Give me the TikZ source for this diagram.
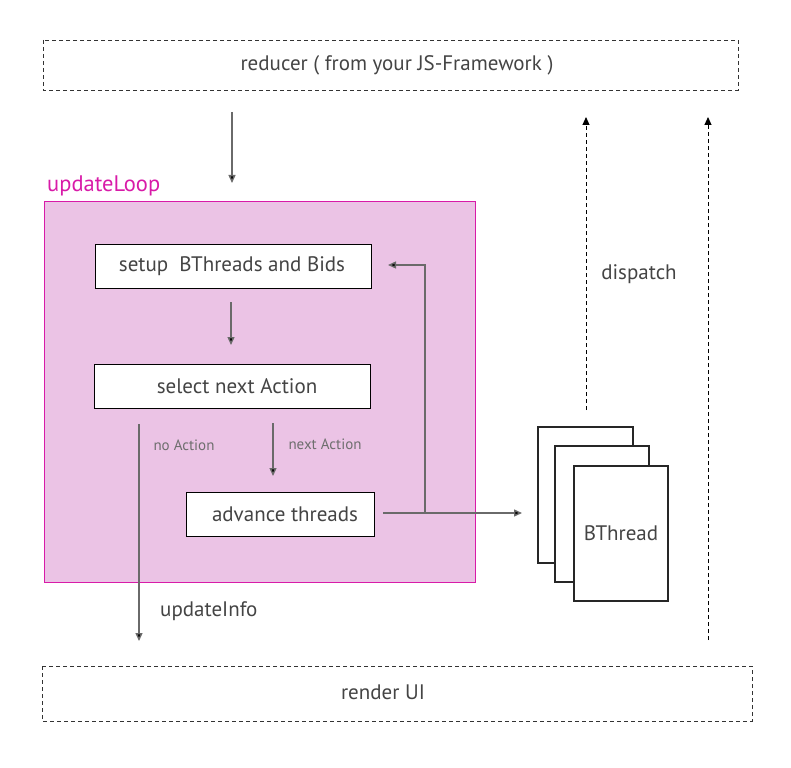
\documentclass[tikz,border=0pt]{standalone}
\usepackage{fontspec}
\setmainfont{PT Sans}
\usetikzlibrary{arrows.meta}
\definecolor{txt}{HTML}{444444}
\definecolor{magentaA}{HTML}{D81BA8}
\definecolor{pinkfill}{HTML}{EBC3E5}
\definecolor{linegray}{HTML}{6A6A6A}
\definecolor{lbl}{HTML}{6E6E6E}
\tikzset{
  dashbox/.style={draw=black!80, dashed, line width=0.8pt, dash pattern=on 4pt off 3pt, inner sep=0pt},
  procbox/.style={draw=black, fill=white, line width=1pt, inner sep=0pt},
  conn/.style={draw=linegray, line width=1.4pt, -{Triangle[length=8pt,width=7pt,fill=black]}},
  dconn/.style={draw=black, line width=1pt, dash pattern=on 4pt off 3pt, -{Triangle[length=8pt,width=7pt]}},
  plain/.style={draw=linegray, line width=1.4pt},
  bigtxt/.style={text=txt, font=\fontsize{21}{24}\selectfont, inner sep=0pt},
  smalltxt/.style={text=lbl, font=\fontsize{15}{17}\selectfont, inner sep=0pt},
  thread/.style={draw=black!85, fill=white, line width=1.2pt},
}
\begin{document}
\begin{tikzpicture}[x=1pt,y=-1pt]
\useasboundingbox (0,0) rectangle (791,767);
% top dashed box
\draw[dashbox] (43,40) rectangle (738,90);
\node[bigtxt] (reducer) at (397,65) {reducer ( from your JS-Framework )};
% updateLoop
\node[anchor=west, text=magentaA, font=\fontsize{22.5}{24}\selectfont, inner sep=0pt] (ulabel) at (47,186) {updateLoop};
\draw[draw=magentaA, fill=pinkfill, line width=1pt] (44,202) rectangle (475,582);
% process boxes
\node[procbox, minimum width=276pt, minimum height=44pt] (setup) at (233,266) {};
\node[bigtxt] at (232,266) {setup\ \ BThreads and Bids};
\node[procbox, minimum width=276pt, minimum height=44pt] (select) at (232,386) {};
\node[bigtxt] at (237,386) {select next Action};
\node[procbox, minimum width=188pt, minimum height=44pt] (advance) at (280,514) {};
\node[bigtxt] at (285,514) {advance threads};
% arrows
\coordinate (a1s) at (232,112);
\coordinate (a1e) at (232,183);
\draw[conn] (a1s) -- (a1e);
\coordinate (a2s) at (231,302);
\coordinate (a2e) at (231,345);
\draw[conn] (a2s) -- (a2e);
\coordinate (na1) at (273,423);
\coordinate (na2) at (273,476);
\draw[conn] (na1) -- (na2);
\node[smalltxt] (nextlbl) at (325,444) {next Action};
\coordinate (no1) at (139,424);
\coordinate (no2) at (139,641);
\draw[conn] (no1) -- (no2);
\node[smalltxt] (nolbl) at (184,445) {no Action};
\node[bigtxt, anchor=west] (uinfo) at (160,611) {updateInfo};
% advance to threads, and loop back
\coordinate (adv0) at (383,513);
\coordinate (j) at (425,513);
\coordinate (thr) at (522,513);
\coordinate (up) at (425,265);
\coordinate (back) at (388,265);
\draw[conn] (adv0) -- (thr);
\draw[conn] (j) -- (up) -- (back);
% bthreads
\draw[thread] (538,427) rectangle (633,563);
\draw[thread] (555,446) rectangle (649,582);
\draw[thread] (574,466) rectangle (668,601);
\node[bigtxt] (bthread) at (621,533) {BThread};
% dispatch arrows
\coordinate (d1s) at (586,410);
\coordinate (d1e) at (586,117);
\draw[dconn] (d1s) -- (d1e);
\coordinate (d2s) at (708,640);
\coordinate (d2e) at (708,117);
\draw[dconn] (d2s) -- (d2e);
\node[bigtxt] (dispatch) at (639,274) {dispatch};
% bottom dashed box
\draw[dashbox] (42,666) rectangle (752,721);
\node[bigtxt] (render) at (383,692) {render UI};
\end{tikzpicture}
\end{document}
